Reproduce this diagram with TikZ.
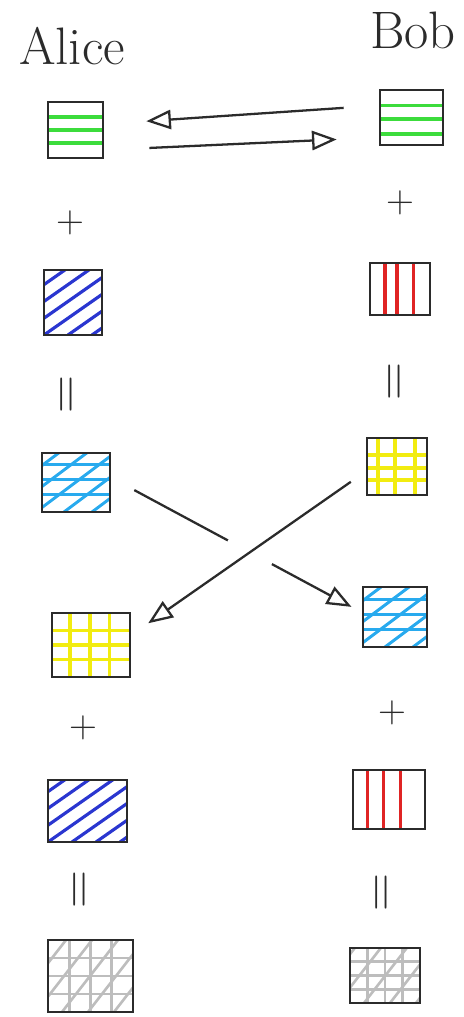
\documentclass[tikz,border=0pt]{standalone}
\usetikzlibrary{arrows.meta,calc,intersections}
\definecolor{ink}{HTML}{2B2B2B}
\definecolor{cgreen}{HTML}{3CDC3C}
\definecolor{cblue}{HTML}{2A36D0}
\definecolor{cred}{HTML}{E02424}
\definecolor{ccyan}{HTML}{28AAEE}
\definecolor{cyellow}{HTML}{F2EC10}
\definecolor{cgray}{HTML}{BDBDBD}
\newcommand\PH[2]{\foreach \f in {#2}{\draw[#1] ($(path picture bounding box.south west)!\f!(path picture bounding box.north west)$) -- ($(path picture bounding box.south east)!\f!(path picture bounding box.north east)$);}}
\newcommand\PV[2]{\foreach \f in {#2}{\draw[#1] ($(path picture bounding box.south west)!\f!(path picture bounding box.south east)$) -- ($(path picture bounding box.north west)!\f!(path picture bounding box.north east)$);}}
\newcommand\PD[4]{\foreach \d in {#2}{\draw[#1] ($(path picture bounding box.south west)+(\d,0)$) -- ++(#3,-#4);}}
\begin{document}
\begin{tikzpicture}[x=0.02cm,y=-0.02cm,
  box/.style 2 args={draw=ink, line width=1.6pt, minimum width=#1*0.02cm, minimum height=#2*0.02cm, inner sep=0pt},
  arr/.style={draw=ink, line width=1.3pt, -{Triangle[open,length=14pt,width=11pt,line width=1.3pt]}},
  sym/.style={text=ink, font=\fontsize{22}{24}\selectfont},
  eqs/.style={text=ink, font=\fontsize{30}{32}\selectfont, rotate=90},
  who/.style={text=ink, font=\fontsize{30}{32}\selectfont},
  gl/.style={cgreen, line width=2pt},
  bl/.style={cblue, line width=1.8pt},
  rl/.style={cred, line width=1.8pt},
  cl/.style={ccyan, line width=1.7pt},
  yl/.style={cyellow, line width=2pt},
  grl/.style={cgray, line width=1.5pt}]
\useasboundingbox (0,0) rectangle (463,1017);

% names
\node[who] (alice) at (72,46) {Alice};
\node[who] (bob) at (413,30) {Bob};

% row 1: shared green
\node[box={55}{56}, path picture={\PH{gl}{0.27,0.5,0.73}}] (aG) at (75.5,130) {};
\node[box={63}{55}, path picture={\PH{gl}{0.2,0.47,0.72}}] (bG) at (411.5,117.5) {};

\draw[arr, shorten <=0.7cm, shorten >=0.84cm] ($(bG.west)+(0,-12)$) -- ($(aG.east)+(0,-6)$);
\draw[arr, shorten <=0.9cm, shorten >=0.84cm] ($(aG.east)+(0,20)$) -- ($(bG.west)+(0,20)$);

% plus
\node[sym] (aP1) at (70,223) {+};
\node[sym] (bP1) at (400,203) {+};

% row 2: private
\node[box={58}{65}, path picture={\PD{bl}{-72,-48,-24,0,24,48}{100}{70}}] (aB1) at (73,302.5) {};
\node[box={60}{52}, path picture={\PV{rl}{0.25,0.45,0.72}}] (bR1) at (400,289) {};

% equals
\node[eqs] (aE1) at (70,395) {=};
\node[eqs] (bE1) at (398,382) {=};

% row 3: public mixes
\node[box={68}{59}, path picture={\PH{cl}{0.3,0.55,0.8}\PD{cl}{-90,-62,-34,-6,22,50}{100}{75}}] (aC) at (76,482.5) {};
\node[box={60}{57}, path picture={\PH{yl}{0.26,0.47,0.7}\PV{yl}{0.18,0.47,0.8}}] (bY) at (397,466.5) {};

% row 4: received
\node[box={78}{64}, path picture={\PH{yl}{0.27,0.5,0.73}\PV{yl}{0.23,0.49,0.74}}] (aY) at (91,645) {};
\node[box={64}{60}, path picture={\PH{cl}{0.3,0.55,0.8}\PD{cl}{-90,-62,-34,-6,22,50}{100}{75}}] (bC) at (395,617) {};

% crossing arrows
\path[name path=l1] ($(aC.east)+(0,-4.7)$) -- ($(bC.west)+(0,-4.7)$);
\path[name path=l2] ($(bY.west)+(0,5)$) -- ($(aY.east)+(0,-10)$);
\path[name intersections={of=l1 and l2, by=X}];
\draw[arr, shorten <=0.52cm, shorten >=0.23cm] ($(aC.east)+(0,-4.7)$) -- ($(bC.west)+(0,-4.7)$);
\fill[white] (X) circle (0.5cm);
\draw[arr, shorten <=0.36cm, shorten >=0.41cm] ($(bY.west)+(0,5)$) -- ($(aY.east)+(0,-10)$);

% plus
\node[sym] (aP2) at (83,728) {+};
\node[sym] (bP2) at (392,713) {+};

% row 5: private again
\node[box={79}{62}, path picture={\PD{bl}{-72,-48,-24,0,24,48,72}{100}{70}}] (aB2) at (87.5,811) {};
\node[box={72}{59}, path picture={\PV{rl}{0.2,0.42,0.66}}] (bR2) at (389,799.5) {};

% equals
\node[eqs] (aE2) at (83,890) {=};
\node[eqs] (bE2) at (385,893) {=};

% row 6: shared secret
\node[box={85}{72}, path picture={\PH{grl}{0.25,0.5,0.75}\PV{grl}{0.25,0.5,0.75}\PD{grl}{-90,-64,-38,-12,14,40,66}{70}{90}}] (aS) at (90.5,976) {};
\node[box={70}{55}, path picture={\PH{grl}{0.25,0.5,0.75}\PV{grl}{0.25,0.5,0.75}\PD{grl}{-90,-64,-38,-12,14,40,66}{70}{90}}] (bS) at (385,975.5) {};
\end{tikzpicture}
\end{document}
